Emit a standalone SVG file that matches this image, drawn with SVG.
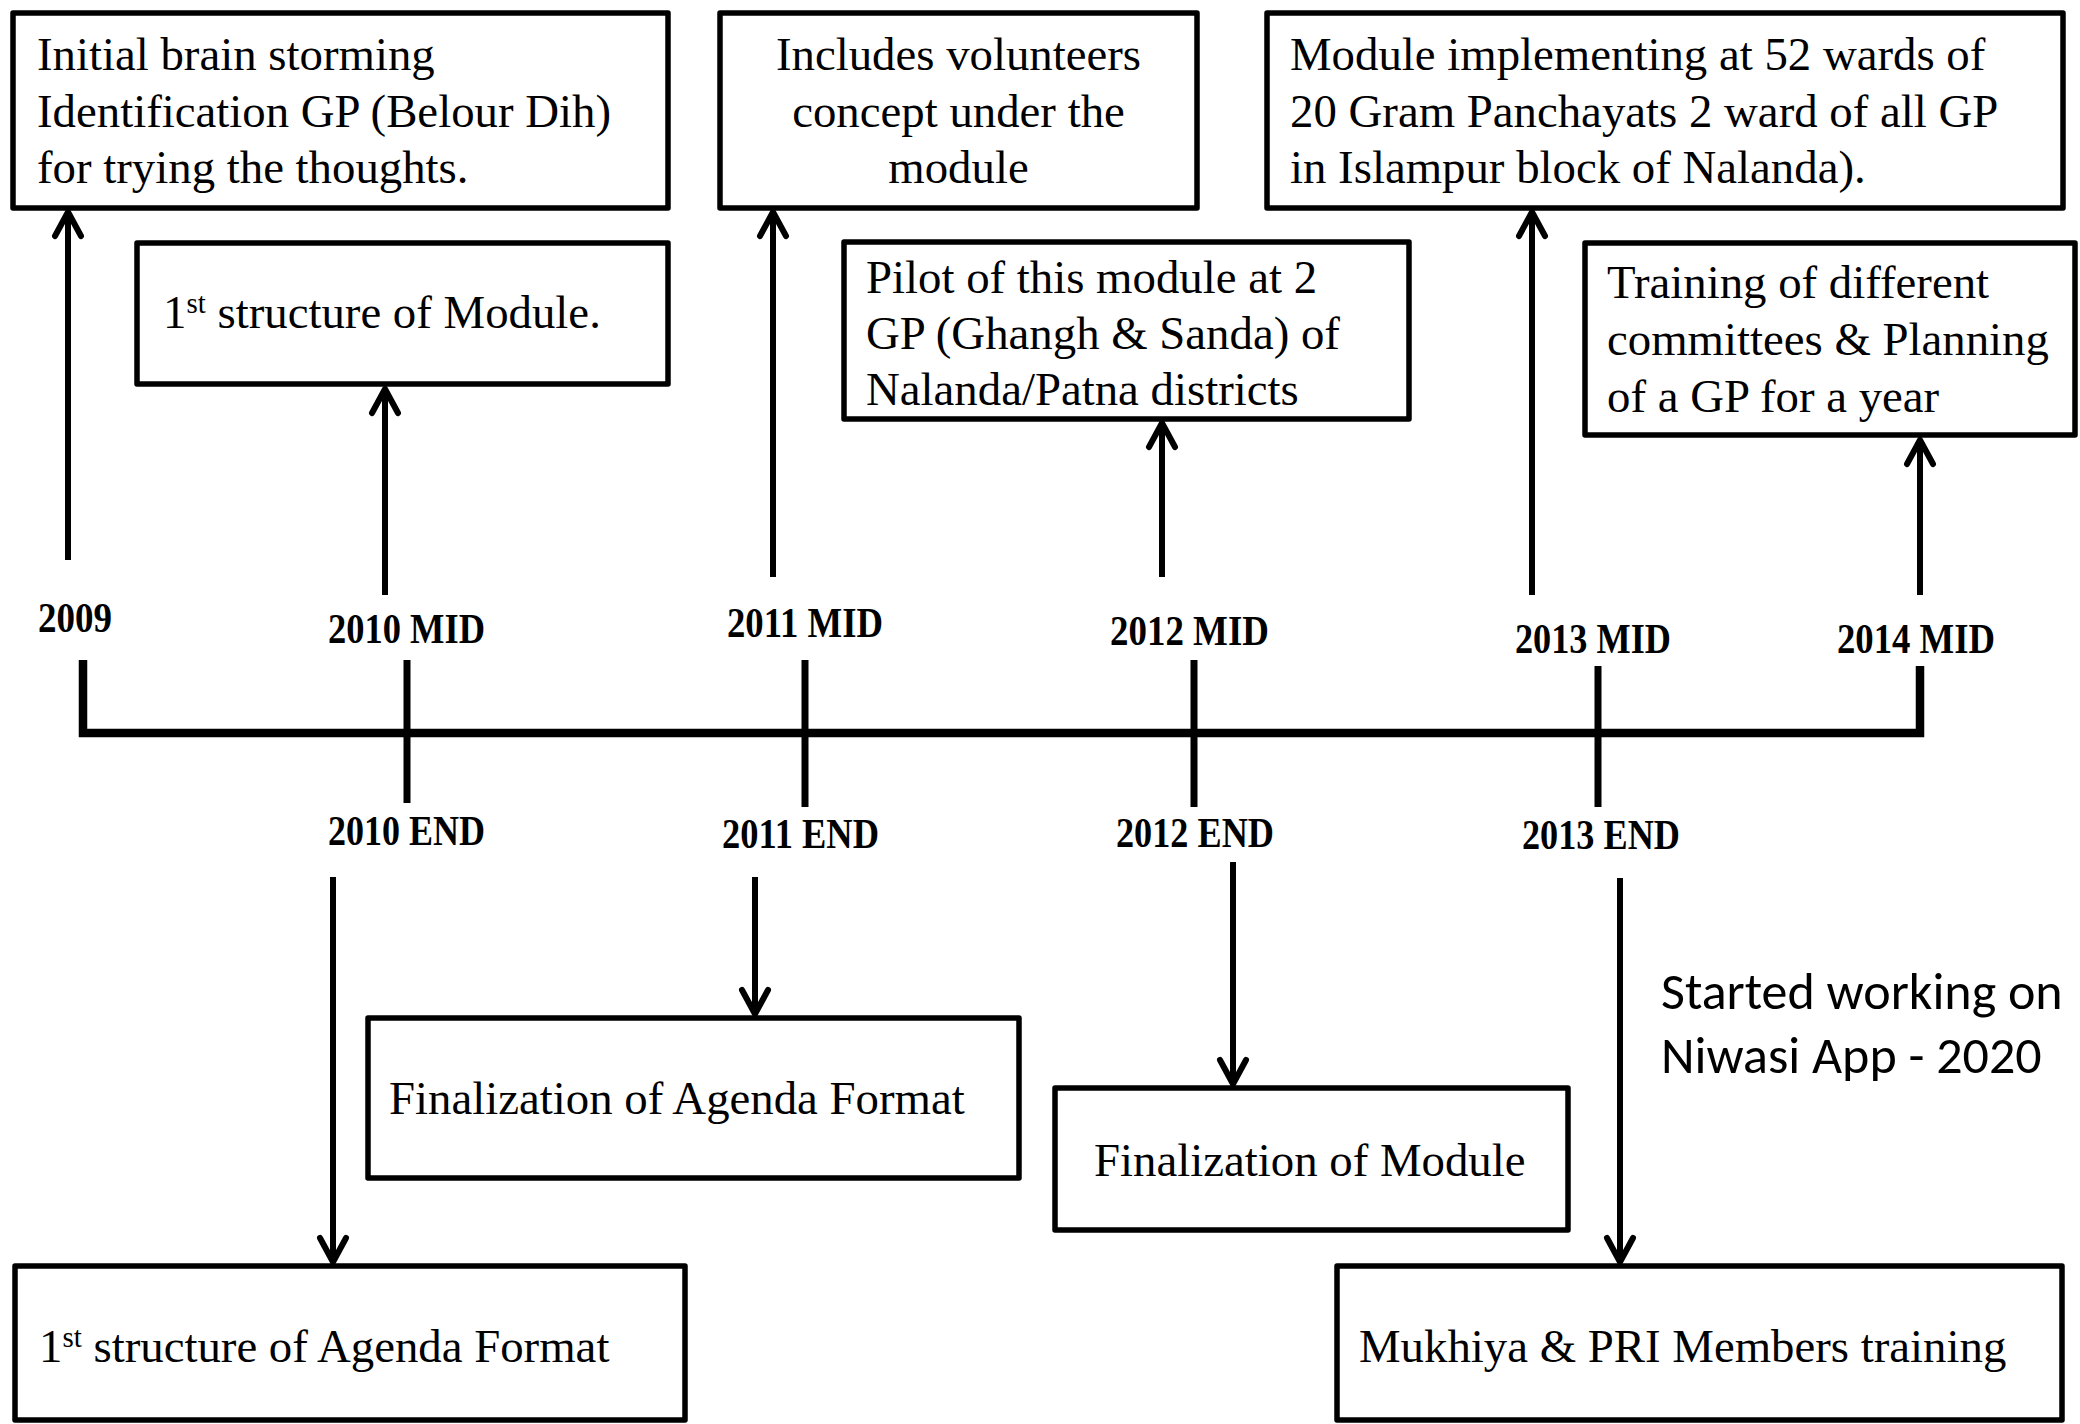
<svg xmlns="http://www.w3.org/2000/svg" width="2080" height="1424" viewBox="0 0 2080 1424">
<style>
.box{fill:#fff;stroke:#000;stroke-width:5.5;stroke-linejoin:round}
.t{font-family:"Liberation Serif","Times New Roman",serif;font-size:46.8px;fill:#000}
.sup{font-size:29px}
.lbl{font-family:"Liberation Serif","Times New Roman",serif;font-size:42px;font-weight:bold;fill:#000}
.arr{stroke:#000;stroke-width:6;fill:none}
.tick{stroke:#000;stroke-width:7;fill:none}
.main{stroke:#000;stroke-width:8.5;fill:none;stroke-linejoin:miter}
.note{font-family:"Carlito","Calibri","Liberation Sans",Arial,sans-serif;font-size:52px;fill:#000}
</style>
<defs>
<marker id="ah" markerUnits="userSpaceOnUse" viewBox="-30 -20 40 40" markerWidth="40" markerHeight="40" refX="0" refY="0" orient="auto" overflow="visible">
<path d="M-24,-13 L0,0 L-24,13" fill="none" stroke="#000" stroke-width="6" stroke-linecap="round" stroke-linejoin="round"/>
</marker>
</defs>
<rect width="2080" height="1424" fill="#fff"/>

<g id="connectors">
<line class="arr" x1="68" y1="560" x2="68" y2="212" marker-end="url(#ah)"/>
<line class="arr" x1="385" y1="595" x2="385" y2="389" marker-end="url(#ah)"/>
<line class="arr" x1="773" y1="577" x2="773" y2="212" marker-end="url(#ah)"/>
<line class="arr" x1="1162" y1="577" x2="1162" y2="423" marker-end="url(#ah)"/>
<line class="arr" x1="1532" y1="595" x2="1532" y2="212" marker-end="url(#ah)"/>
<line class="arr" x1="1920" y1="595" x2="1920" y2="440" marker-end="url(#ah)"/>
<line class="arr" x1="333" y1="877" x2="333" y2="1262" marker-end="url(#ah)"/>
<line class="arr" x1="755" y1="877" x2="755" y2="1014" marker-end="url(#ah)"/>
<line class="arr" x1="1233" y1="862" x2="1233" y2="1084" marker-end="url(#ah)"/>
<line class="arr" x1="1620" y1="878" x2="1620" y2="1262" marker-end="url(#ah)"/>
<path class="main" d="M83,660 L83,733 L1920,733 L1920,666"/>
<line class="tick" x1="407" y1="660" x2="407" y2="803"/>
<line class="tick" x1="805" y1="660" x2="805" y2="807"/>
<line class="tick" x1="1194" y1="660" x2="1194" y2="807"/>
<line class="tick" x1="1598" y1="666" x2="1598" y2="807"/>
</g>

<g id="labels">
<text class="lbl" x="38" y="632" textLength="74" lengthAdjust="spacingAndGlyphs">2009</text>
<text class="lbl" x="328" y="643" textLength="157" lengthAdjust="spacingAndGlyphs">2010 MID</text>
<text class="lbl" x="727" y="637" textLength="156" lengthAdjust="spacingAndGlyphs">2011 MID</text>
<text class="lbl" x="1110" y="645" textLength="159" lengthAdjust="spacingAndGlyphs">2012 MID</text>
<text class="lbl" x="1515" y="653" textLength="156" lengthAdjust="spacingAndGlyphs">2013 MID</text>
<text class="lbl" x="1837" y="653" textLength="158" lengthAdjust="spacingAndGlyphs">2014 MID</text>
<text class="lbl" x="328" y="845" textLength="157" lengthAdjust="spacingAndGlyphs">2010 END</text>
<text class="lbl" x="722" y="848" textLength="157" lengthAdjust="spacingAndGlyphs">2011 END</text>
<text class="lbl" x="1116" y="847" textLength="158" lengthAdjust="spacingAndGlyphs">2012 END</text>
<text class="lbl" x="1522" y="849" textLength="158" lengthAdjust="spacingAndGlyphs">2013 END</text>
</g>

<g id="n-initial">
<rect class="box" x="13" y="13" width="655" height="195"/>
<text class="t" x="37" y="70">Initial brain storming</text>
<text class="t" x="37" y="127">Identification GP (Belour Dih)</text>
<text class="t" x="37" y="183">for trying the thoughts.</text>
</g>

<g id="n-structure-module">
<rect class="box" x="137" y="243" width="531" height="141"/>
<text class="t" x="163" y="328">1<tspan class="sup" dy="-15">st</tspan><tspan dy="15"> structure of Module.</tspan></text>
</g>

<g id="n-volunteers">
<rect class="box" x="720" y="13" width="477" height="195"/>
<text class="t" x="958.5" y="70" text-anchor="middle">Includes volunteers</text>
<text class="t" x="958.5" y="127" text-anchor="middle">concept under the</text>
<text class="t" x="958.5" y="183" text-anchor="middle">module</text>
</g>

<g id="n-pilot">
<rect class="box" x="844" y="242" width="565" height="177"/>
<text class="t" x="866" y="293">Pilot of this module at 2</text>
<text class="t" x="866" y="349">GP (Ghangh &amp; Sanda) of</text>
<text class="t" x="866" y="405">Nalanda/Patna districts</text>
</g>

<g id="n-implementing">
<rect class="box" x="1267" y="13" width="796" height="195"/>
<text class="t" x="1290" y="70">Module implementing at 52 wards of</text>
<text class="t" x="1290" y="127">20 Gram Panchayats 2 ward of all GP</text>
<text class="t" x="1290" y="183">in Islampur block of Nalanda).</text>
</g>

<g id="n-training">
<rect class="box" x="1585" y="243" width="490" height="192"/>
<text class="t" x="1607" y="298">Training of different</text>
<text class="t" x="1607" y="355">committees &amp; Planning</text>
<text class="t" x="1607" y="412">of a GP for a year</text>
</g>

<g id="n-agenda-structure">
<rect class="box" x="15" y="1266" width="670" height="154"/>
<text class="t" x="39" y="1362">1<tspan class="sup" dy="-15">st</tspan><tspan dy="15"> structure of Agenda Format</tspan></text>
</g>

<g id="n-agenda-final">
<rect class="box" x="368" y="1018" width="651" height="160"/>
<text class="t" x="389" y="1114">Finalization of Agenda Format</text>
</g>

<g id="n-module-final">
<rect class="box" x="1055" y="1088" width="513" height="142"/>
<text class="t" x="1094" y="1176">Finalization of Module</text>
</g>

<g id="n-mukhiya">
<rect class="box" x="1337" y="1266" width="725" height="154"/>
<text class="t" x="1359" y="1362">Mukhiya &amp; PRI Members training</text>
</g>

<g id="note">
<text class="note" x="1661" y="1009">Started working on</text>
<text class="note" x="1661" y="1073">Niwasi App - 2020</text>
</g>
</svg>
